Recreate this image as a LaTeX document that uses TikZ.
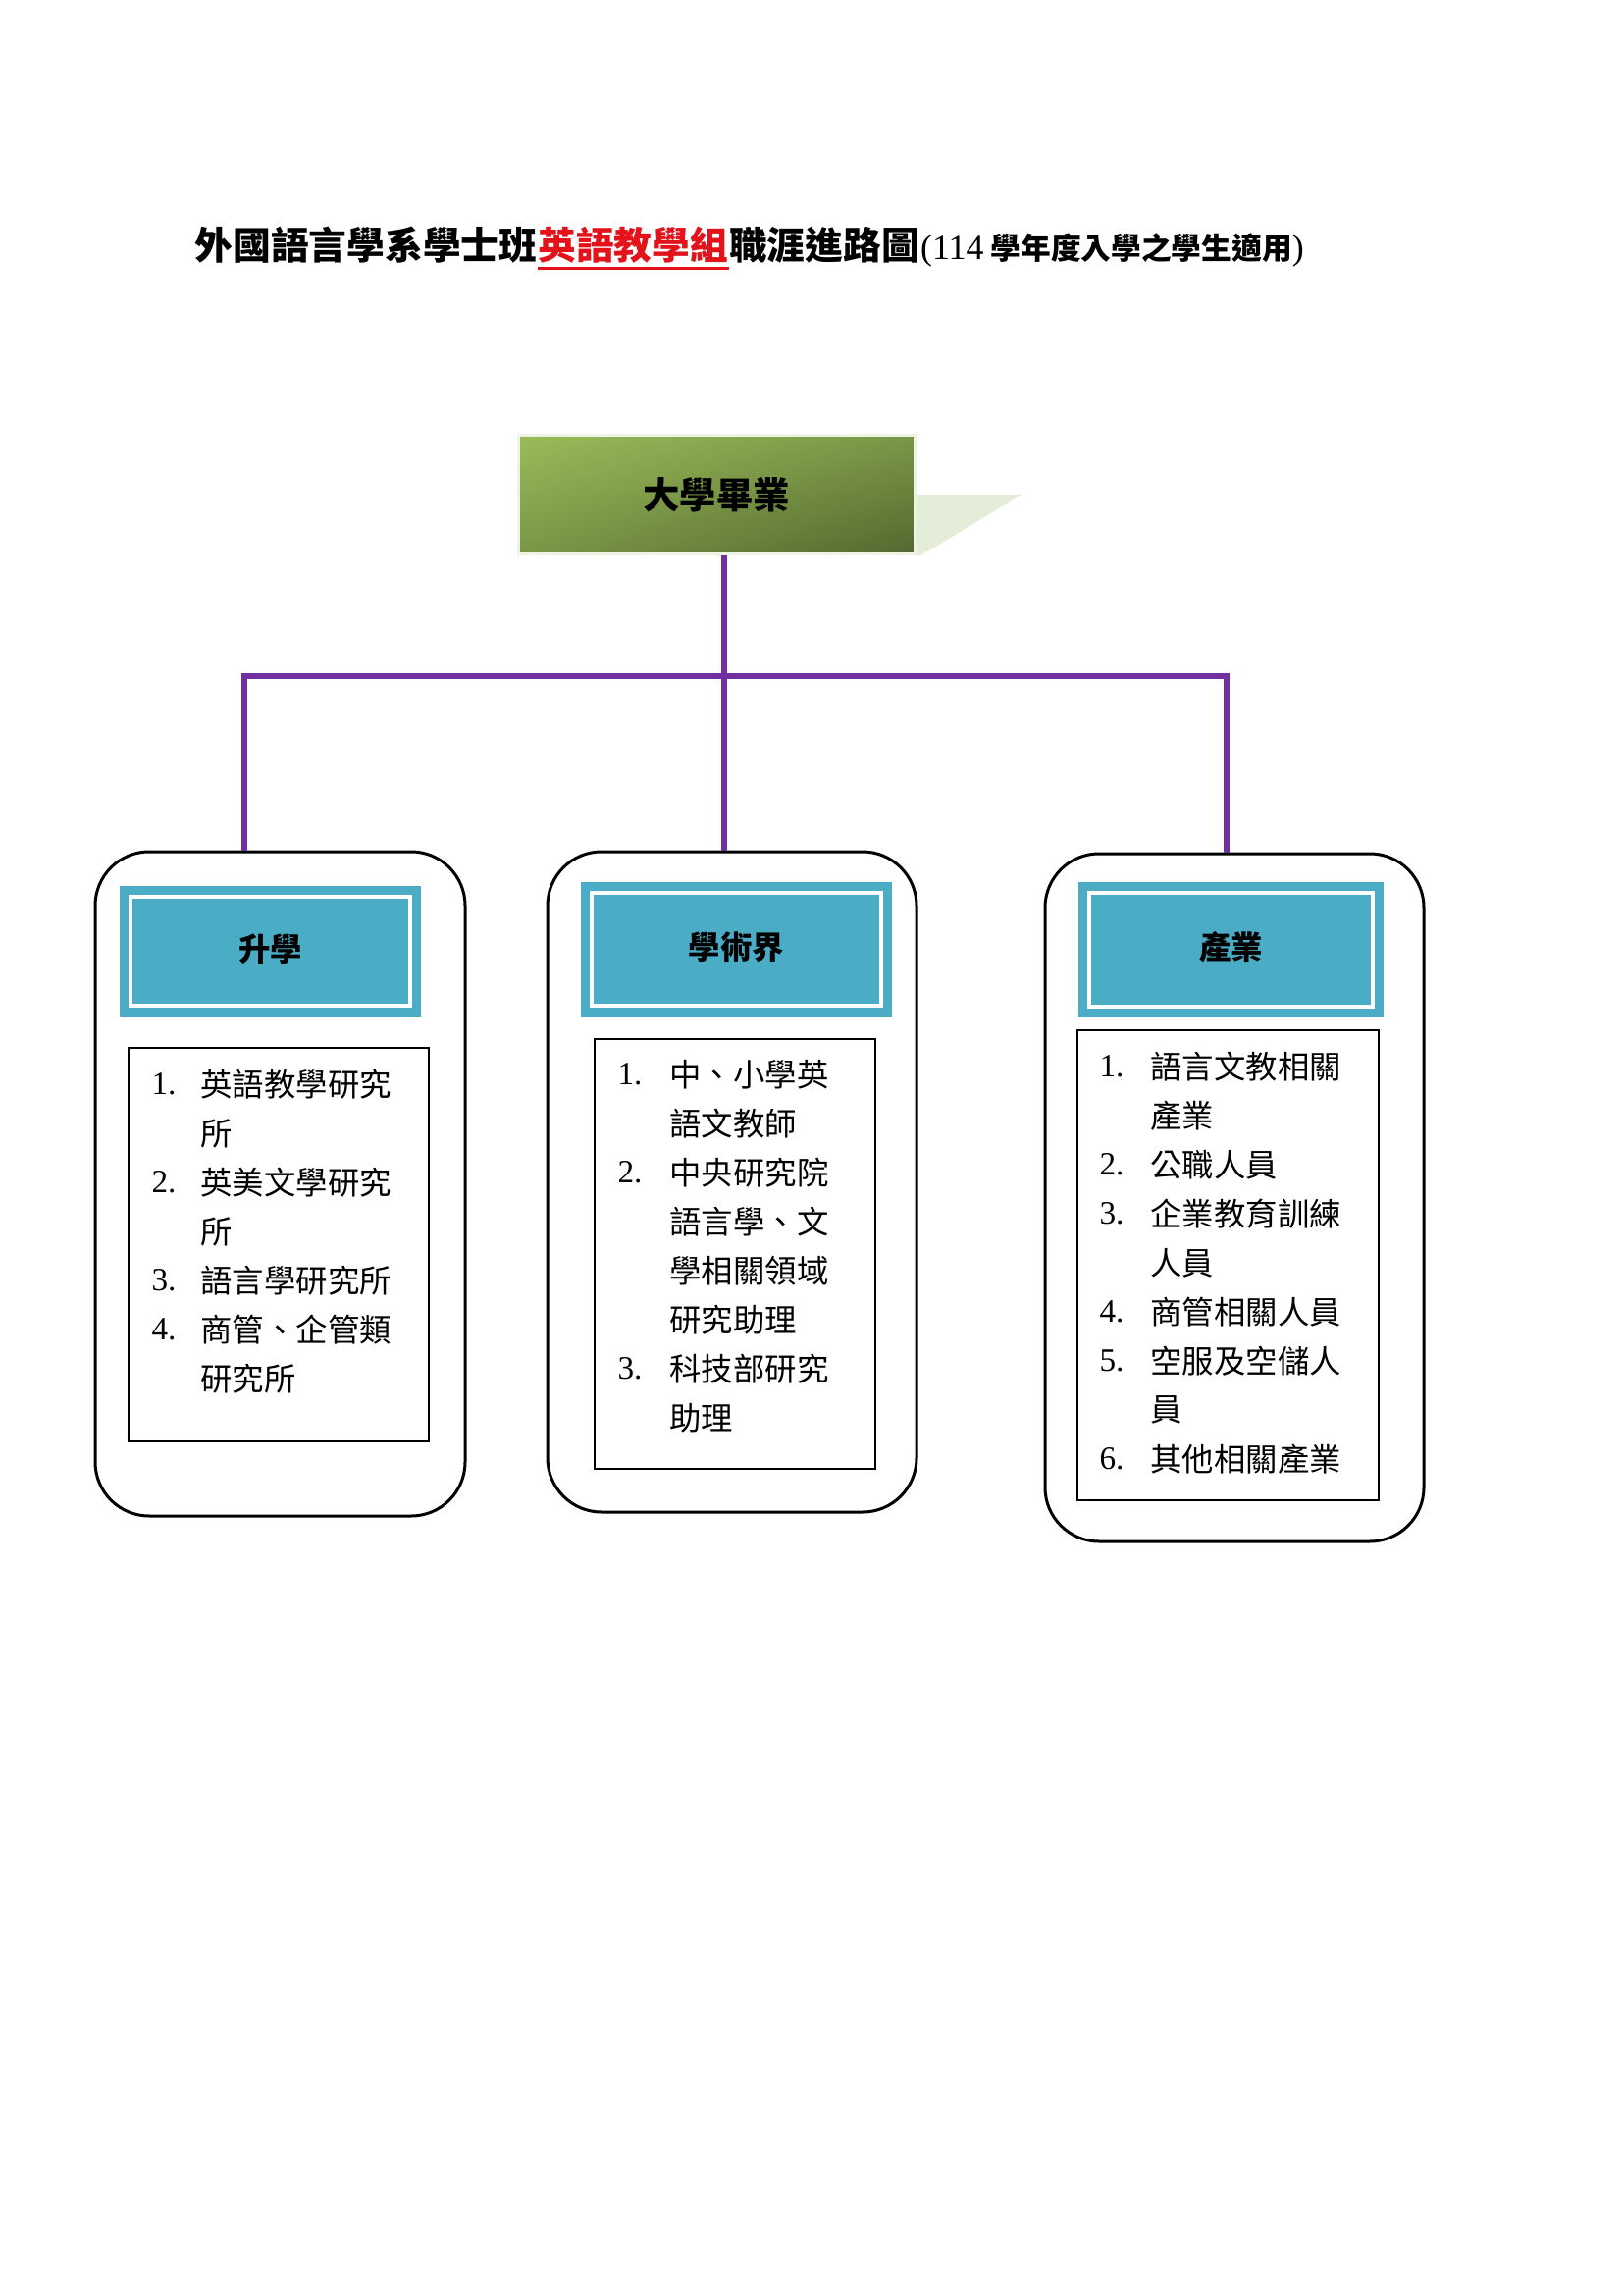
\documentclass[tikz,border=0pt]{standalone}
\usepackage{fontspec}
\setmainfont{Noto Sans CJK TC}
\newfontfamily\numfont{Liberation Serif}
\usetikzlibrary{positioning,shadings}

\newdimen\px \px=0.127mm

\definecolor{gradlight}{HTML}{9BBB59}
\definecolor{gradmid}{HTML}{7A9747}
\definecolor{graddark}{HTML}{536830}
\definecolor{gradedge}{HTML}{EEF3E6}
\definecolor{tabshadow}{HTML}{E4EDD8}
\definecolor{linkpurple}{HTML}{7030A0}
\definecolor{headcyan}{HTML}{4BACC6}
\definecolor{titlered}{HTML}{E3121B}

\tikzset{
  titletext/.style={inner sep=0, anchor=base west, font=\fontsize{14}{16}\selectfont\bfseries},
  subtitletext/.style={inner sep=0, anchor=base west, font=\fontsize{11.1}{14}\selectfont\bfseries},
  gradbox/.style={upper left=gradlight, upper right=gradmid, lower left=gradmid, lower right=graddark,
    draw=gradedge, line width=3\px, minimum width=404\px, minimum height=121\px,
    font=\fontsize{13.5}{16}\selectfont\bfseries},
  link/.style={draw=linkpurple, line width=6\px},
  outerbox/.style={draw, line width=3\px, rounded corners=55\px, inner sep=0},
  header/.style={fill=headcyan, draw=white, line width=3.5\px, inner sep=0, text depth=0.3em,
    preaction={draw=headcyan, line width=22\px},
    font=\fontsize{11.7}{14}\selectfont\bfseries},
  listbox/.style={draw, line width=2.6\px, inner sep=0},
  item/.style={anchor=west, inner sep=0, font=\fontsize{11.7}{14}\selectfont},
  num/.style={anchor=west, inner sep=0, font=\numfont\fontsize{12}{14}\selectfont},
}

\begin{document}
\begin{tikzpicture}[x=0.127mm, y=-0.127mm]
\useasboundingbox (0,0) rectangle (1654,2339);

% title
\node[titletext] (ttlA) at (198,265) {外國語言學系學士班};
\node[titletext, text=titlered] (ttlB) at (ttlA.base east) {英語教學組};
\node[titletext] (ttlC) at (ttlB.base east) {職涯進路圖};
\node[subtitletext] (ttlD) at (ttlC.base east) {{\numfont\mdseries\fontsize{13}{14}\selectfont(114} 學年度入學之學生適用{\numfont\mdseries\fontsize{13}{14}\selectfont)}};
\draw[titlered, line width=3\px] ([yshift=-3pt]ttlB.base west) -- ([yshift=-3pt]ttlB.base east);

% graduation
\node[gradbox] (grad) at (730,504) {大學畢業};
\fill[tabshadow] (grad.east) -- ++(108,0) -- ([xshift=5\px]grad.south east) -- (grad.south east) -- cycle;

% three paths
\node[outerbox, minimum width=377\px, minimum height=677\px] (outerA) at (285.5,1206.5) {};
\node[outerbox, minimum width=376\px, minimum height=673\px] (outerB) at (746,1204.5) {};
\node[outerbox, minimum width=386\px, minimum height=701\px] (outerC) at (1258,1220.5) {};

\node[header, minimum width=285\px, minimum height=111\px] (headA) at (275.5,969.5) {升學};
\node[header, minimum width=295\px, minimum height=115\px] (headB) at (750.5,967.5) {學術界};
\node[header, minimum width=289\px, minimum height=116\px] (headC) at (1254.5,968) {產業};

\node[listbox, minimum width=306\px, minimum height=401\px] (listA) at (284,1268.5) {};
\node[listbox, minimum width=286\px, minimum height=438\px] (listB) at (749,1278) {};
\node[listbox, minimum width=307\px, minimum height=479\px] (listC) at (1251.5,1289.5) {};

\foreach \n/\t [count=\i] in {1./英語教學研究, /所, 2./英美文學研究, /所, 3./語言學研究所, 4./商管、企管類, /研究所}{
  \node[num] (numA\i) at (154,1055+50*\i) {\n};
  \node[item] (itemA\i) at (204,1055+50*\i) {\t};
}
\foreach \n/\t [count=\i] in {1./中、小學英, /語文教師, 2./中央研究院, /語言學、文, /學相關領域, /研究助理, 3./科技部研究, /助理}{
  \node[num] (numB\i) at (629,1045+50*\i) {\n};
  \node[item] (itemB\i) at (682,1045+50*\i) {\t};
}
\foreach \n/\t [count=\i] in {1./語言文教相關, /產業, 2./公職人員, 3./企業教育訓練, /人員, 4./商管相關人員, 5./空服及空儲人, /員, 6./其他相關產業}{
  \node[num] (numC\i) at (1120,1037+50*\i) {\n};
  \node[item] (itemC\i) at (1172,1037+50*\i) {\t};
}

% connectors
\coordinate (split) at (738,689);
\coordinate (splitL) at (249,689);
\coordinate (splitR) at (1250,689);
\draw[link] (split |- grad.south) -- (split) -- (split |- outerB.north);
\draw[link] (splitL |- outerA.north) -- (splitL) -- (splitR) -- (splitR |- outerC.north);
\end{tikzpicture}
\end{document}
